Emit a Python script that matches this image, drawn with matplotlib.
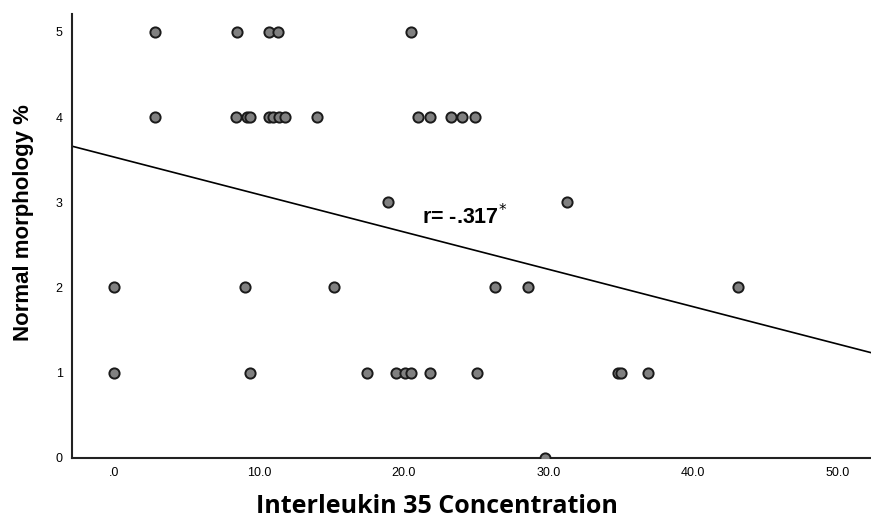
"""Scatter of normal morphology vs IL-35 concentration with fit line."""

import matplotlib
matplotlib.use("Agg")
import matplotlib.pyplot as plt
import numpy as np

# points, grouped by morphology score
il35 = [2.8, 8.5, 10.7, 11.3, 20.5,
        2.8, 8.4, 9.2, 9.4, 10.7, 11.0, 11.4, 11.8, 14.0, 21.0, 21.8, 23.3, 24.0, 24.9,
        18.9, 31.3,
        0.0, 9.05, 15.2, 26.3, 28.6, 43.1,
        0.0, 9.4, 17.5, 19.5, 20.1, 20.5, 21.8, 25.1, 34.8, 35.0, 36.9,
        29.8]
morphology = [5, 5, 5, 5, 5,
              4, 4, 4, 4, 4, 4, 4, 4, 4, 4, 4, 4, 4, 4,
              3, 3,
              2, 2, 2, 2, 2, 2,
              1, 1, 1, 1, 1, 1, 1, 1, 1, 1, 1,
              0]

fit_intercept = 3.53
fit_slope = -0.0439
r_text = "r= -.317$^{*}$"

x_ticks = [0, 10, 20, 30, 40, 50]
x_ticklabels = [".0", "10.0", "20.0", "30.0", "40.0", "50.0"]
y_ticks = [0, 1, 2, 3, 4, 5]

fig = plt.figure(figsize=(8.71, 5.19), dpi=100)
ax = fig.add_axes([0.083, 0.118, 0.917, 0.855])

xlim = (-2.9, 52.3)
ax.scatter(il35, morphology, s=54, facecolor="#808080", edgecolor="#1a1a1a",
           linewidth=1.4, zorder=3)

xs = np.array(xlim)
ax.plot(xs, fit_intercept + fit_slope * xs, color="black", linewidth=1.2, zorder=2)

ax.text(21.3, 2.83, r_text, fontsize=15.5, fontweight="bold",
        ha="left", va="center", family="Liberation Sans")

ax.set_xlim(*xlim)
ax.set_ylim(0, 5.21)
ax.set_xticks(x_ticks)
ax.set_xticklabels(x_ticklabels)
ax.set_yticks(y_ticks)
ax.tick_params(length=0, labelsize=9, pad=7)
for lbl in ax.get_xticklabels() + ax.get_yticklabels():
    lbl.set_family("Liberation Sans")

for side in ("top", "right"):
    ax.spines[side].set_visible(False)
for side in ("left", "bottom"):
    ax.spines[side].set_linewidth(1.5)
    ax.spines[side].set_color("#222222")

ax.set_xlabel("Interleukin 35 Concentration", fontsize=18, fontweight="bold",
              family="Open Sans")
ax.xaxis.set_label_coords(0.456, -0.11)
ax.xaxis.label.set_va("center")
ax.set_ylabel("Normal morphology %", fontsize=16, fontweight="bold",
              family="Liberation Sans")
ax.yaxis.set_label_coords(-0.061, 0.53)
ax.yaxis.label.set_va("center")

fig.savefig("out.png", dpi=100)
